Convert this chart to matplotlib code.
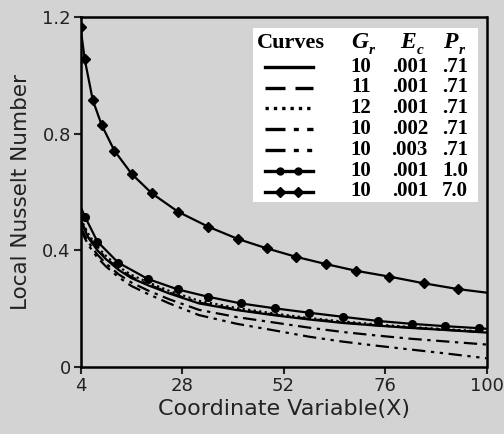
import matplotlib
matplotlib.use("Agg")
import matplotlib.pyplot as plt
from matplotlib.lines import Line2D
from matplotlib.patches import Rectangle

# ---------------- data ----------------
x_solid = [4, 6, 8, 10, 13, 16, 20, 25, 32, 41, 50, 58, 66, 74, 82, 90, 100]
y_solid = [0.50, 0.44, 0.40, 0.37, 0.333, 0.305, 0.280, 0.252, 0.218, 0.195,
           0.177, 0.163, 0.151, 0.142, 0.134, 0.127, 0.118]

x_dash = x_solid
y_dash = [0.505, 0.445, 0.405, 0.374, 0.337, 0.309, 0.283, 0.255, 0.221, 0.197,
          0.179, 0.165, 0.153, 0.143, 0.135, 0.128, 0.119]

x_dot = x_solid
y_dot = [0.51, 0.452, 0.412, 0.381, 0.344, 0.316, 0.290, 0.261, 0.227, 0.202,
         0.183, 0.168, 0.156, 0.146, 0.137, 0.130, 0.121]

x_ec2 = x_solid
y_ec2 = [0.48, 0.425, 0.385, 0.355, 0.318, 0.290, 0.262, 0.232, 0.196, 0.171,
         0.152, 0.135, 0.120, 0.108, 0.097, 0.088, 0.077]

x_ec3 = x_solid
y_ec3 = [0.47, 0.415, 0.375, 0.345, 0.308, 0.278, 0.250, 0.218, 0.178, 0.148,
         0.125, 0.104, 0.087, 0.073, 0.060, 0.047, 0.030]

x_pr1 = [4, 5.06, 8.0, 12.9, 19.9, 27.0, 34.1, 41.9, 50.0, 58.1, 66.1, 74.3, 82.3, 90.2, 98.3, 100]
y_pr1 = [0.55, 0.515, 0.43, 0.358, 0.302, 0.266, 0.241, 0.218, 0.201, 0.186,
         0.172, 0.158, 0.148, 0.140, 0.133, 0.131]

x_pr7 = [4, 5.0, 6.9, 9.0, 12.0, 16.1, 20.9, 27.1, 34.2, 41.2, 48.0, 54.9, 62.0,
         69.1, 77.0, 85.2, 93.3, 100]
y_pr7 = [1.165, 1.055, 0.915, 0.83, 0.742, 0.662, 0.595, 0.532, 0.481, 0.439,
         0.407, 0.378, 0.353, 0.330, 0.310, 0.287, 0.267, 0.255]

x_ticks = [4, 28, 52, 76, 100]
y_ticks = [0, 0.4, 0.8, 1.2]
y_tick_labels = ["0", "0.4", "0.8", "1.2"]

leg_header = ["Curves", "G", "E", "P"]
leg_sub = ["", "r", "c", "r"]
leg_Gr = ["10", "11", "12", "10", "10", "10", "10"]
leg_Ec = [".001", ".001", ".001", ".002", ".003", ".001", ".001"]
leg_Pr = [".71", ".71", ".71", ".71", ".71", "1.0", "7.0"]

# ---------------- figure ----------------
W, H = 504, 434
bg = "#d3d3d3"
fig = plt.figure(figsize=(W / 100, H / 100), dpi=100, facecolor=bg)
L, R, T, B = 80.5, 486.5, 17, 367
ax = fig.add_axes([L / W, 1 - B / H, (R - L) / W, (B - T) / H], facecolor=bg)

lw = 1.6
k = "black"
styles = [
    dict(ls="-"),
    dict(ls=(0, (6, 3, 6, 3, 1.5, 3))),
    dict(ls=(0, (1, 1.5))),
    dict(ls=(0, (6, 2.5, 1.5, 2.5))),
    dict(ls=(0, (6, 2.5, 1.5, 2.5, 1.5, 2.5))),
]
series = [(x_solid, y_solid), (x_dash, y_dash), (x_dot, y_dot),
          (x_ec2, y_ec2), (x_ec3, y_ec3)]
for (xs, ys), st in zip(series, styles):
    ax.plot(xs, ys, color=k, lw=lw, **st)

ax.plot(x_pr1, y_pr1, color=k, lw=lw, marker="o", ms=5.5,
        markevery=list(range(1, len(x_pr1) - 1)))
ax.plot(x_pr7, y_pr7, color=k, lw=lw, marker="D", ms=5.5,
        markevery=list(range(0, len(x_pr7) - 1)))

ax.set_xlim(4, 100)
ax.set_ylim(0, 1.2)
ax.set_xticks(x_ticks)
ax.set_xticklabels([str(v) for v in x_ticks])
ax.set_yticks(y_ticks)
ax.set_yticklabels(y_tick_labels)
for s in ax.spines.values():
    s.set_linewidth(1.8)
ax.tick_params(direction="out", length=5, width=1.5, labelsize=13,
               colors="#222222", pad=2)
ax.set_xlabel("Coordinate Variable(X)", fontsize=16, color="#222222", labelpad=3)
ax.set_ylabel("Local Nusselt Number", fontsize=15.5, color="#222222", labelpad=8)

# ---------------- custom legend table ----------------
def fx(px):
    return px / W

def fy(py):
    return 1 - py / H

tf = fig.transFigure
fig.patches.append(Rectangle((fx(253), fy(202)), fx(478) - fx(253), fy(28) - fy(202),
                             transform=tf, facecolor="white", edgecolor="none",
                             zorder=5))
serif = "Liberation Serif"
fs = 15
fig.text(fx(257), fy(43), leg_header[0], fontsize=16, fontweight="bold", family=serif,
         ha="left", va="center", zorder=6)
head_x = [351, 400, 443]
sub_dx = [18, 17, 16]
for j in range(1, 4):
    fig.text(fx(head_x[j - 1]), fy(43), leg_header[j], fontsize=17,
             fontweight="bold", fontstyle="italic", family=serif,
             ha="left", va="center", zorder=6)
    fig.text(fx(head_x[j - 1] + sub_dx[j - 1]), fy(51), leg_sub[j], fontsize=11,
             fontweight="bold", fontstyle="italic", family=serif,
             ha="left", va="center", zorder=6)

row_y = [66.7, 87.5, 108.3, 129.1, 149.9, 170.7, 191.5]
leg_styles = styles + [dict(ls="-", marker="o", ms=5), dict(ls="-", marker="D", ms=5)]
for i, py in enumerate(row_y):
    st = dict(leg_styles[i])
    if "marker" in st:
        ln = Line2D([fx(265), fx(280), fx(298), fx(313)], [fy(py)] * 4, transform=tf,
                    color=k, lw=2.4, markevery=[1, 2], **st)
    else:
        ln = Line2D([fx(265), fx(313)], [fy(py)] * 2, transform=tf, color=k, lw=2.4, **st)
    ln.set_zorder(6)
    fig.lines.append(ln)
    fig.text(fx(371), fy(py), leg_Gr[i], fontsize=fs, family=serif, ha="right",
             va="center", zorder=6, fontweight="bold")
    fig.text(fx(428), fy(py), leg_Ec[i], fontsize=fs, family=serif, ha="right",
             va="center", zorder=6, fontweight="bold")
    fig.text(fx(468), fy(py), leg_Pr[i], fontsize=fs, family=serif, ha="right",
             va="center", zorder=6, fontweight="bold")

fig.savefig("out.png", dpi=100, facecolor=bg)
